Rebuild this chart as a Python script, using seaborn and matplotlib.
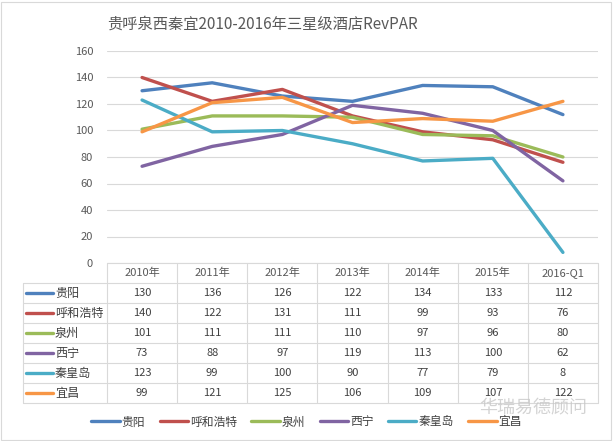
import matplotlib
matplotlib.use("Agg")
import matplotlib.pyplot as plt
import seaborn as sns
import pandas as pd
from matplotlib.lines import Line2D
from matplotlib.patches import Rectangle

categories = ["2010年", "2011年", "2012年", "2013年", "2014年", "2015年", "2016-Q1"]
cities = ["贵阳", "呼和浩特", "泉州", "西宁", "秦皇岛", "宜昌"]
guiyang = [130, 136, 126, 122, 134, 133, 112]
huhehaote = [140, 122, 131, 111, 99, 93, 76]
quanzhou = [101, 111, 111, 110, 97, 96, 80]
xining = [73, 88, 97, 119, 113, 100, 62]
qinhuangdao = [123, 99, 100, 90, 77, 79, 8]
yichang = [99, 121, 125, 106, 109, 107, 122]
series = [guiyang, huhehaote, quanzhou, xining, qinhuangdao, yichang]
colors = ["#4F81BD", "#C0504D", "#9BBB59", "#8064A2", "#4BACC6", "#F79646"]
title = "贵呼泉西秦宜2010-2016年三星级酒店RevPAR"

sns.set_style("white")
plt.rcParams['font.family'] = ['Noto Sans CJK SC', 'DejaVu Sans']

rows = []
for c, vals in zip(cities, series):
    for i, v in enumerate(vals):
        rows.append({"pos": i, "cat": categories[i], "city": c, "value": v})
df = pd.DataFrame(rows)

W, H = 613, 441
fig = plt.figure(figsize=(W / 100, H / 100), dpi=100)
fig.patch.set_facecolor("white")

# main plot axes
ax = fig.add_axes([107 / W, 1 - 263 / H, (598 - 107) / W, (263 - 51) / H])
sns.lineplot(data=df, x="pos", y="value", hue="city", hue_order=cities,
             palette=colors, linewidth=2.4, sort=False, legend=False, ax=ax)
ax.set_xlim(-0.5, len(categories) - 0.5)
ax.set_ylim(0, 160)
ax.set_yticks(range(0, 161, 20))
ax.set_xticks([])
ax.set_xlabel("")
ax.set_ylabel("")
ax.yaxis.grid(True, color="#d9d9d9", linewidth=0.8)
ax.set_axisbelow(True)
for s in ax.spines.values():
    s.set_visible(False)
ax.tick_params(axis="y", length=0, pad=10, labelsize=8, labelcolor="#595959")

# title
fig.text(262 / W, 1 - 24 / H, title, ha="center", va="center",
         fontsize=11, color="#595959")

# data table axes
tax = fig.add_axes([23 / W, 1 - 403 / H, (598 - 23) / W, 140 / H])
left = -0.5 - 84 / 70.14
n = len(categories)
tax.set_xlim(left, n - 0.5)
tax.set_ylim(len(cities) + 1, 0)
tax.axis("off")
gc = "#d9d9d9"
lw = 0.8
# horizontal lines
tax.plot([-0.5, n - 0.5], [0, 0], color=gc, lw=lw, clip_on=False)
for r in range(1, len(cities) + 2):
    tax.plot([left, n - 0.5], [r, r], color=gc, lw=lw, clip_on=False)
# vertical lines
tax.plot([left, left], [1, len(cities) + 1], color=gc, lw=lw, clip_on=False)
for j in range(n + 1):
    tax.plot([j - 0.5, j - 0.5], [0, len(cities) + 1], color=gc, lw=lw, clip_on=False)
# header
for j, c in enumerate(categories):
    tax.text(j, 0.5, c, ha="center", va="center", fontsize=8, color="#595959")
# rows
for i, (c, vals, col) in enumerate(zip(cities, series, colors)):
    y = i + 1.5
    tax.plot([-1.655, -1.27], [y, y], color=col, lw=2.4, solid_capstyle="round", clip_on=False)
    tax.text(-1.241, y, c, ha="left", va="center", fontsize=8.7, color="#404040")
    for j, v in enumerate(vals):
        tax.text(j, y, str(v), ha="center", va="center", fontsize=8, color="#404040")

# legend
handles = [Line2D([0], [0], color=col, lw=2.4) for col in colors]
fig.legend(handles, cities, loc="center", bbox_to_anchor=(0.5, 1 - 422 / H),
           ncol=6, frameon=False, fontsize=8.5, handlelength=2.4, handletextpad=0.15,
           columnspacing=1.25, labelcolor="#404040", borderpad=0.2)

# watermark
fig.text(533 / W, 1 - 408 / H, "华瑞易德顾问", ha="center", va="center",
         fontsize=13, color="#c8c8c8", alpha=0.8)

# border
fig.patches.append(Rectangle((1 / W, 1 / H), (W - 3) / W, (H - 3) / H,
                             transform=fig.transFigure, fill=False,
                             edgecolor="#d9d9d9", linewidth=0.8))

fig.savefig("out.png", dpi=100)
